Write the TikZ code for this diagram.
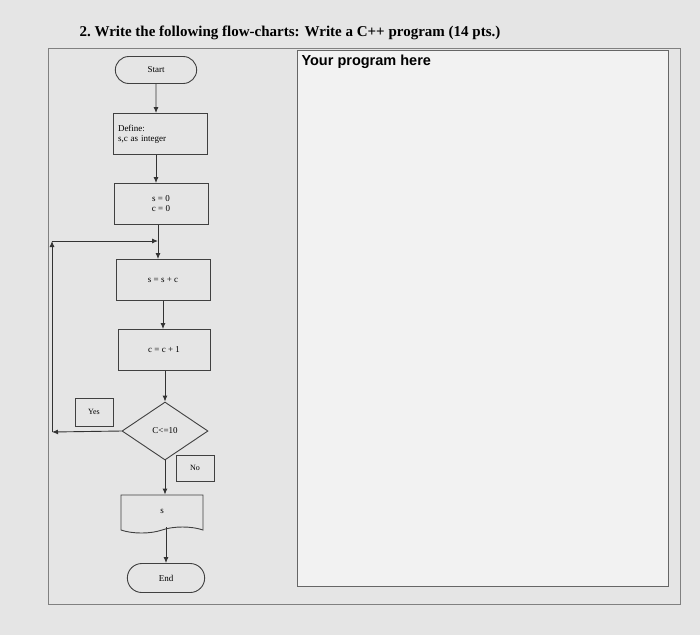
\documentclass[tikz,border=0pt]{standalone}
\usetikzlibrary{shapes.geometric,shapes.symbols,shapes.misc,arrows.meta}
\usepackage{fontspec}
\setmainfont{Liberation Serif}
\newfontfamily\sansf{Liberation Sans}
\begin{document}
\begin{tikzpicture}[x=1pt,y=-1pt,
  box/.style={draw=black!75,line width=0.9pt,minimum width=94pt,minimum height=41pt,font=\fontsize{9}{10}\selectfont,align=center},
  term/.style={draw=black!75,line width=0.9pt,rounded rectangle,minimum width=88pt,minimum height=27pt,font=\fontsize{9}{10}\selectfont},
  lab/.style={draw=black!75,line width=0.9pt,minimum width=38pt,minimum height=28pt,font=\fontsize{8}{9}\selectfont},
  arr/.style={draw=black!80,line width=0.9pt,-{Latex[length=6pt,width=5pt]}}]
\fill[black!10] (0,0) rectangle (700,635);
\useasboundingbox (0,0) rectangle (700,635);
\draw[black!50,line width=0.8pt] (48,48) rectangle (680,604);
\node[anchor=west,font=\bfseries\fontsize{15}{17}\selectfont] (title) at (76,33) {2.\ Write the following flow-charts: Write a C++ program (14 pts.)};
\draw[black!60,line width=1pt,fill=black!5] (297,50) rectangle (668,586);
\node[anchor=west,font=\sansf\bfseries\fontsize{14.5}{16}\selectfont] (yp) at (298,62) {Your program here};
\node[term] (start) at (156,70) {Start};
\node[box,align=left,text width=84pt] (def) at (160,134) {Define:\\s,c as integer};
\node[box] (init) at (161,204) {s = 0\\c = 0};
\node[box] (ss) at (163,280) {s = s + c};
\node[box,minimum width=92pt] (cc) at (164,350) {c = c + 1};
\node[draw=black!75,line width=0.9pt,diamond,aspect=1.5,minimum width=86pt,minimum height=58pt,inner sep=0pt,font=\fontsize{9}{10}\selectfont] (dec) at (165,431) {C<=10};
\node[lab] (yes) at (94,412) {Yes};
\node[lab,minimum height=26pt] (no) at (195,468) {No};
\node[draw=black!75,line width=0.9pt,tape,tape bend top=none,tape bend height=6pt,minimum width=82pt,minimum height=38pt,font=\fontsize{9}{10}\selectfont] (out) at (162,511) {s};
\node[term,minimum width=84pt,minimum height=29pt] (end) at (166,578) {End};
\coordinate (j) at (158,241);
\coordinate (bl) at (52,432);
\coordinate (tl) at (52,241);
\draw[arr] (start) -- (def.north -| start);
\draw[arr] (def.south -| start) -- (init.north -| start);
\draw[arr] (init.south -| j) -- (ss.north -| j);
\draw[arr] (cc.south -| dec) -- (dec.north);
\draw[arr] (dec.west) -- (bl);
\draw[arr] (bl) -- (tl);
\draw[arr] (tl) -- (j);
\draw[arr] (ss.south -| 163,0) -- (cc.north -| 163,0);
\draw[arr] (dec.south) -- (out.north -| dec.south);
\draw[arr] (out.south -| 166,0) -- (end.north -| 166,0);
\end{tikzpicture}
\end{document}
